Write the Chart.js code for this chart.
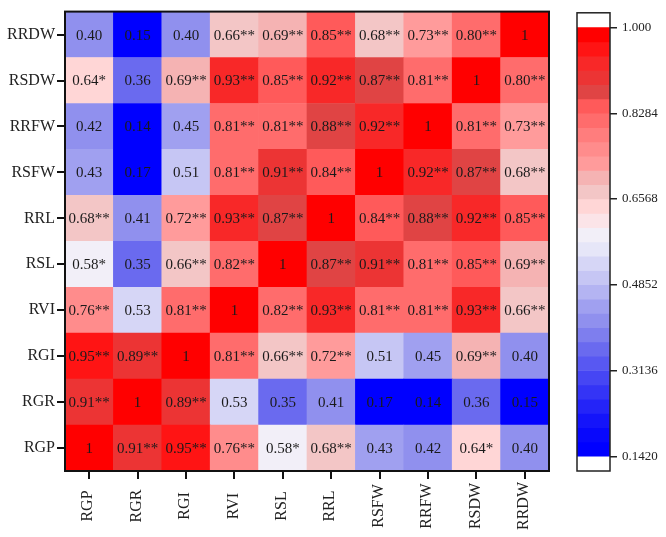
<!DOCTYPE html>
<html>
<head>
<meta charset="utf-8">
<script src="https://cdn.jsdelivr.net/npm/chart.js@4.4.1/dist/chart.umd.min.js"></script>
<style>
  html, body { margin: 0; padding: 0; background: #fff; }
  #wrap { position: relative; width: 666px; height: 537px; }
  canvas { position: absolute; top: 0; }
</style>
</head>
<body>
<div id="wrap">
  <canvas id="heat" width="666" height="537" style="left:0"></canvas>
  <canvas id="bar" width="106" height="537" style="left:560px"></canvas>
</div>
<script>
// ---- data: variable names and correlation labels (row by row, columns RGP..RRDW)
const vars = ["RGP", "RGR", "RGI", "RVI", "RSL", "RRL", "RSFW", "RRFW", "RSDW", "RRDW"];

const RGP  = ["1", "0.91**", "0.95**", "0.76**", "0.58*", "0.68**", "0.43", "0.42", "0.64*", "0.40"];
const RGR  = ["0.91**", "1", "0.89**", "0.53", "0.35", "0.41", "0.17", "0.14", "0.36", "0.15"];
const RGI  = ["0.95**", "0.89**", "1", "0.81**", "0.66**", "0.72**", "0.51", "0.45", "0.69**", "0.40"];
const RVI  = ["0.76**", "0.53", "0.81**", "1", "0.82**", "0.93**", "0.81**", "0.81**", "0.93**", "0.66**"];
const RSL  = ["0.58*", "0.35", "0.66**", "0.82**", "1", "0.87**", "0.91**", "0.81**", "0.85**", "0.69**"];
const RRL  = ["0.68**", "0.41", "0.72**", "0.93**", "0.87**", "1", "0.84**", "0.88**", "0.92**", "0.85**"];
const RSFW = ["0.43", "0.17", "0.51", "0.81**", "0.91**", "0.84**", "1", "0.92**", "0.87**", "0.68**"];
const RRFW = ["0.42", "0.14", "0.45", "0.81**", "0.81**", "0.88**", "0.92**", "1", "0.81**", "0.73**"];
const RSDW = ["0.64*", "0.36", "0.69**", "0.93**", "0.85**", "0.92**", "0.87**", "0.81**", "1", "0.80**"];
const RRDW = ["0.40", "0.15", "0.40", "0.66**", "0.69**", "0.85**", "0.68**", "0.73**", "0.80**", "1"];

// rows from bottom to top
const rows = [RGP, RGR, RGI, RVI, RSL, RRL, RSFW, RRFW, RSDW, RRDW];

// colour bar tick labels
const barTicks = ["1.000", "0.8284", "0.6568", "0.4852", "0.3136", "0.1420"];

// ---- colour scale: 30 bands, top (1.000) to bottom (0.1420)
const bandColors = [
  "#ff0000", "#ff1414", "#f82828", "#ec3434", "#e04444",
  "#ff5a5a", "#ff6c6c", "#ff7d7d", "#ff8c8c", "#ff9b9b",
  "#f5b3b3", "#f3c6c6", "#ffd6d6", "#fbe4e8", "#f2eff8",
  "#e6e6f8", "#d6d6f6", "#c6c6f4", "#b4b4f2", "#a0a0f0",
  "#9090ee", "#7e7eee", "#6a6aef", "#5858f2", "#4646f4",
  "#3434f6", "#2424f8", "#1414fa", "#0808fc", "#0000ff"
];
const cMax = 1.0, cMin = 0.142;
const step = (cMax - cMin) / bandColors.length;
function colorFor(v) {
  let k = Math.floor((cMax - v) / step + 1e-9);
  k = Math.max(0, Math.min(bandColors.length - 1, k));
  return bandColors[k];
}

const serif = '"Liberation Serif", "Times New Roman", serif';

// ---- heatmap as stacked unit bars
const datasets = rows.map((row) => ({
  data: row.map(() => 1),
  backgroundColor: row.map((s) => colorFor(parseFloat(s))),
  borderWidth: 0,
  barPercentage: 1,
  categoryPercentage: 1,
  labels: row
}));

const boxPlugin = {
  id: "box",
  afterDatasetsDraw(chart) {
    const ctx = chart.ctx;
    const a = chart.chartArea;
    // cell texts
    ctx.save();
    ctx.font = "15px " + serif;
    ctx.fillStyle = "#1a1a1a";
    ctx.textAlign = "center";
    ctx.textBaseline = "middle";
    chart.data.datasets.forEach((ds, i) => {
      chart.getDatasetMeta(i).data.forEach((bar, j) => {
        ctx.fillText(ds.labels[j], bar.x, (bar.y + bar.base) / 2 + 1);
      });
    });
    ctx.restore();
    // frame
    ctx.save();
    ctx.strokeStyle = "#111";
    ctx.lineWidth = 2;
    ctx.strokeRect(a.left, a.top, a.right - a.left, a.bottom - a.top);
    ctx.restore();
    // x labels, rotated and centred below the axis
    const xs = chart.scales.x;
    ctx.save();
    ctx.font = "16px " + serif;
    ctx.fillStyle = "#222";
    ctx.textAlign = "center";
    ctx.textBaseline = "middle";
    vars.forEach((v, i) => {
      ctx.save();
      ctx.translate(xs.getPixelForTick(i) - 1, a.bottom + 35);
      ctx.rotate(-Math.PI / 2);
      ctx.fillText(v, 0, 0);
      ctx.restore();
    });
    ctx.restore();
  }
};

new Chart(document.getElementById("heat"), {
  type: "bar",
  data: { labels: vars, datasets: datasets },
  options: {
    responsive: false,
    animation: false,
    layout: { padding: { top: 5, right: 117, left: 0, bottom: 0 } },
    plugins: { legend: { display: false }, tooltip: { enabled: false } },
    scales: {
      x: {
        stacked: true,
        afterFit: (s) => { s.height = 66; },
        grid: { offset: false, drawOnChartArea: false, drawTicks: true, tickLength: 8, color: "#111", lineWidth: 2 },
        border: { display: false },
        ticks: { display: false }
      },
      y: {
        stacked: true,
        min: 0,
        max: 10,
        afterFit: (s) => { s.width = 65; },
        afterBuildTicks: (s) => { s.ticks = vars.map((v, i) => ({ value: i + 0.5 })); },
        grid: { drawOnChartArea: false, drawTicks: true, tickLength: 8, color: "#111", lineWidth: 2 },
        border: { display: false },
        ticks: {
          padding: 2,
          color: "#222",
          font: { family: serif, size: 16 },
          callback: (v, i) => vars[i]
        }
      }
    }
  },
  plugins: [boxPlugin]
});

// ---- colour bar
const pad = 15 / 436 * (cMax - cMin);
const bandSets = bandColors.map((c, k) => ({
  data: [[cMax - (k + 1) * step, cMax - k * step]],
  backgroundColor: c,
  borderWidth: 0,
  barPercentage: 1,
  categoryPercentage: 1
}));

const frame = {
  id: "frame",
  afterDatasetsDraw(chart) {
    const ctx = chart.ctx;
    const a = chart.chartArea;
    ctx.save();
    ctx.strokeStyle = "#222";
    ctx.lineWidth = 1.5;
    ctx.strokeRect(a.left, a.top, a.right - a.left, a.bottom - a.top);
    ctx.restore();
  }
};

new Chart(document.getElementById("bar"), {
  type: "bar",
  data: { labels: [""], datasets: bandSets },
  options: {
    responsive: false,
    animation: false,
    layout: { padding: { top: 5, left: 17, right: 0, bottom: 66 } },
    plugins: { legend: { display: false }, tooltip: { enabled: false } },
    scales: {
      x: { stacked: true, display: false },
      y: {
        position: "right",
        min: cMin - pad,
        max: cMax + pad,
        afterFit: (s) => { s.width = 56; },
        afterBuildTicks: (s) => { s.ticks = barTicks.map((t) => ({ value: parseFloat(t) })); },
        grid: { drawOnChartArea: false, drawTicks: true, tickLength: 7, color: "#222", lineWidth: 1.5 },
        border: { display: false },
        ticks: {
          padding: 5,
          color: "#222",
          font: { family: serif, size: 13 },
          callback: (v, i) => barTicks[i]
        }
      }
    }
  },
  plugins: [frame]
});
</script>
</body>
</html>
